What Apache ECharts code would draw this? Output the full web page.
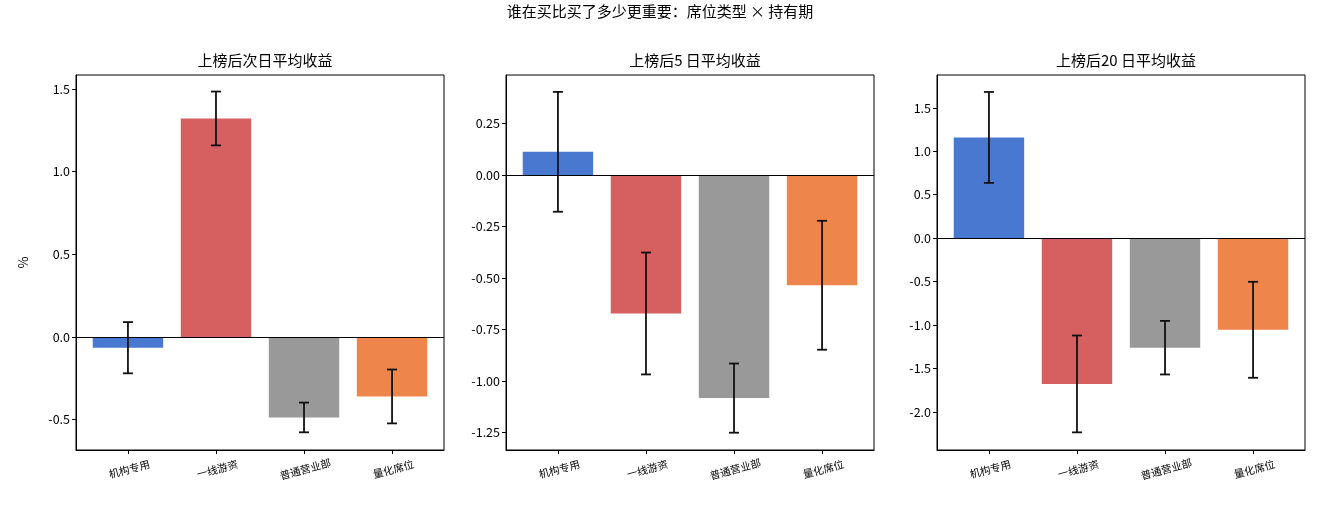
<!DOCTYPE html>
<html>
<head>
<meta charset="utf-8">
<script src="https://cdn.jsdelivr.net/npm/echarts@6/dist/echarts.min.js"></script>
<style>
  html, body { margin: 0; padding: 0; background: #fff; }
  #chart { width: 1320px; height: 505px; }
</style>
</head>
<body>
<div id="chart"></div>
<script>
// seat types on the x axis
const categories = ["机构专用", "一线游资", "普通营业部", "量化席位"];
const panelTitles = ["上榜后次日平均收益", "上榜后5 日平均收益", "上榜后20 日平均收益"];
const suptitle = "谁在买比买了多少更重要：席位类型 × 持有期";

// mean return (%) and error half-width, per holding period
const meanNext = [-0.065, 1.322, -0.487, -0.36];
const errNext = [0.155, 0.163, 0.09, 0.163];
const mean5d = [0.112, -0.673, -1.084, -0.536];
const err5d = [0.291, 0.296, 0.168, 0.313];
const mean20d = [1.159, -1.677, -1.26, -1.054];
const err20d = [0.523, 0.557, 0.308, 0.552];

// y tick labels per panel
const ticksNext = [-0.5, 0.0, 0.5, 1.0, 1.5];
const ticks5d = [-1.25, -1.0, -0.75, -0.5, -0.25, 0.0, 0.25];
const ticks20d = [-2.0, -1.5, -1.0, -0.5, 0.0, 0.5, 1.0, 1.5];

const barColors = ["#4878d0", "#d65f5f", "#999999", "#ee854a"];
const FONT = "'Noto Sans CJK SC', 'DejaVu Sans', sans-serif";

const panels = [
  { mean: meanNext, err: errNext, ticks: ticksNext, digits: 1, yMin: -0.684, yMax: 1.585, left: 76 },
  { mean: mean5d, err: err5d, ticks: ticks5d, digits: 2, yMin: -1.336, yMax: 0.485, left: 506 },
  { mean: mean20d, err: err20d, ticks: ticks20d, digits: 1, yMin: -2.437, yMax: 1.877, left: 937 },
];

const PLOT_W = 368;
const PLOT_TOP = 75;
const PLOT_H = 375;
const X_MIN = -0.59;
const X_MAX = 3.59;
const barWidth = 0.8 * PLOT_W / (X_MAX - X_MIN);

const chart = echarts.init(document.getElementById("chart"), null, { renderer: "canvas" });

const grid = [];
const xAxis = [];
const yAxis = [];
const series = [];
const title = [
  { text: suptitle, left: "center", top: -1, textStyle: { fontFamily: FONT, fontSize: 15, fontWeight: "normal", color: "#000" } },
];

panels.forEach((p, i) => {
  grid.push({
    left: p.left, top: PLOT_TOP, width: PLOT_W, height: PLOT_H,
    show: true, borderColor: "#000", borderWidth: 1, backgroundColor: "transparent",
  });
  title.push({
    text: panelTitles[i],
    left: p.left + PLOT_W / 2, top: 48, textAlign: "center",
    textStyle: { fontFamily: FONT, fontSize: 15, fontWeight: "normal", color: "#000" },
  });
  xAxis.push({
    type: "value", gridIndex: i, min: X_MIN, max: X_MAX,
    axisLine: { show: true, onZero: false, lineStyle: { color: "#000", width: 1 } },
    splitLine: { show: false },
    axisTick: { show: true, customValues: [0, 1, 2, 3], length: 4, lineStyle: { color: "#000" } },
    axisLabel: {
      customValues: [0, 1, 2, 3],
      formatter: (v) => categories[Math.round(v)],
      rotate: 15, align: "center", verticalAlign: "top", margin: 14,
      fontFamily: FONT, fontSize: 10.5, color: "#000",
    },
  });
  yAxis.push({
    type: "value", gridIndex: i, min: p.yMin, max: p.yMax,
    name: i === 0 ? "%" : "",
    nameLocation: "middle", nameGap: 46, nameRotate: 90,
    nameTextStyle: { fontFamily: FONT, fontSize: 13, color: "#000" },
    axisLine: { show: true, onZero: false, lineStyle: { color: "#000", width: 1 } },
    splitLine: { show: false },
    axisTick: { show: true, customValues: p.ticks, length: 4, lineStyle: { color: "#000" } },
    axisLabel: {
      customValues: p.ticks,
      formatter: (v) => v.toFixed(p.digits),
      fontFamily: FONT, fontSize: 12.5, color: "#000", margin: 6,
    },
  });
  series.push({
    type: "bar", xAxisIndex: i, yAxisIndex: i,
    barWidth: barWidth,
    data: p.mean.map((v, k) => ({ value: [k, v], itemStyle: { color: barColors[k] } })),
    markLine: {
      silent: true, symbol: "none", animation: false,
      label: { show: false },
      lineStyle: { color: "#000", width: 1, type: "solid" },
      data: [{ yAxis: 0 }],
    },
    z: 2,
  });
  series.push({
    type: "custom", xAxisIndex: i, yAxisIndex: i,
    data: p.mean.map((v, k) => [k, v, p.err[k]]),
    encode: { x: 0, y: 1 },
    z: 5,
    renderItem: (params, api) => {
      const x = api.value(0);
      const m = api.value(1);
      const e = api.value(2);
      const top = api.coord([x, m + e]);
      const bot = api.coord([x, m - e]);
      const cap = 5;
      const style = { stroke: "#111", lineWidth: 1.8 };
      return {
        type: "group",
        children: [
          { type: "line", shape: { x1: top[0], y1: top[1], x2: bot[0], y2: bot[1] }, style },
          { type: "line", shape: { x1: top[0] - cap, y1: top[1], x2: top[0] + cap, y2: top[1] }, style },
          { type: "line", shape: { x1: bot[0] - cap, y1: bot[1], x2: bot[0] + cap, y2: bot[1] }, style },
        ],
      };
    },
  });
});

chart.setOption({
  animation: false,
  backgroundColor: "#fff",
  title,
  grid,
  xAxis,
  yAxis,
  series,
});
</script>
</body>
</html>
